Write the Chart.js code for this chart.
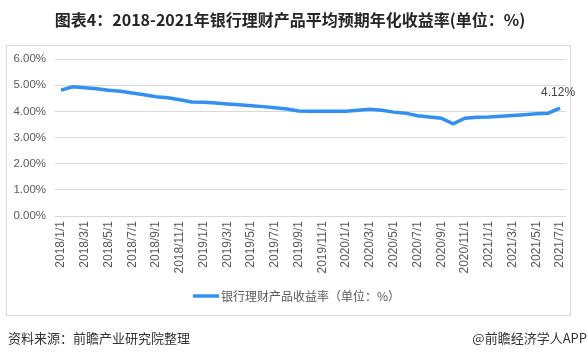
<!DOCTYPE html>
<html>
<head>
<meta charset="utf-8">
<script src="https://cdn.jsdelivr.net/npm/chart.js@4/dist/chart.umd.min.js"></script>
<style>
html,body{margin:0;padding:0;background:#fff;}
#wrap{width:588px;height:358px;position:relative;}
</style>
</head>
<body>
<div id="wrap"><canvas id="c" width="588" height="358"></canvas></div>
<script>
const titleText = '图表4：2018-2021年银行理财产品平均预期年化收益率(单位：%)';
const seriesName = '银行理财产品收益率（单位：%）';
const sourceText = '资料来源：前瞻产业研究院整理';
const brandText = '@前瞻经济学人APP';

const months = [
 '2018/1/1','2018/2/1','2018/3/1','2018/4/1','2018/5/1','2018/6/1','2018/7/1','2018/8/1','2018/9/1','2018/10/1','2018/11/1','2018/12/1',
 '2019/1/1','2019/2/1','2019/3/1','2019/4/1','2019/5/1','2019/6/1','2019/7/1','2019/8/1','2019/9/1','2019/10/1','2019/11/1','2019/12/1',
 '2020/1/1','2020/2/1','2020/3/1','2020/4/1','2020/5/1','2020/6/1','2020/7/1','2020/8/1','2020/9/1','2020/10/1','2020/11/1','2020/12/1',
 '2021/1/1','2021/2/1','2021/3/1','2021/4/1','2021/5/1','2021/6/1','2021/7/1'
];
const yields = [
 4.81,4.94,4.90,4.86,4.81,4.77,4.70,4.63,4.56,4.52,4.44,4.36,
 4.35,4.32,4.28,4.25,4.21,4.18,4.14,4.09,4.01,4.00,4.00,4.00,
 4.00,4.04,4.08,4.04,3.97,3.93,3.83,3.78,3.74,3.52,3.74,3.77,
 3.78,3.81,3.84,3.87,3.91,3.93,4.12
];
const yTicks = [0,1,2,3,4,5,6];
const lastLabel = '4.12%';

const FONT = '"Liberation Sans","Noto Sans CJK SC",sans-serif';
const CJK = '"Noto Sans CJK SC","Liberation Sans",sans-serif';

const deco = {
  id: 'deco',
  beforeDraw(chart) {
    const ctx = chart.ctx;
    ctx.save();
    ctx.fillStyle = '#fff';
    ctx.fillRect(0, 0, chart.width, chart.height);
    ctx.strokeStyle = '#d9d9d9';
    ctx.lineWidth = 1;
    ctx.strokeRect(6.5, 45.5, 564, 270);
    ctx.restore();
  },
  afterDraw(chart) {
    const ctx = chart.ctx;
    ctx.save();
    // title
    ctx.fillStyle = '#262626';
    ctx.font = 'bold 16px ' + CJK;
    ctx.textAlign = 'center';
    ctx.textBaseline = 'middle';
    ctx.fillText(titleText, 290, 20);
    // data label
    const meta = chart.getDatasetMeta(0);
    const p = meta.data[meta.data.length - 1];
    ctx.font = '12px ' + FONT;
    ctx.fillStyle = '#404040';
    ctx.fillText(lastLabel, p.x - 2, p.y - 16);
    // legend
    ctx.strokeStyle = '#3291f0';
    ctx.lineWidth = 3.5;
    ctx.beginPath();
    ctx.moveTo(193, 296);
    ctx.lineTo(219, 296);
    ctx.stroke();
    ctx.font = '12px ' + CJK;
    ctx.fillStyle = '#595959';
    ctx.textAlign = 'left';
    ctx.fillText(seriesName, 221, 296);
    // footer
    ctx.font = '13px ' + CJK;
    ctx.fillStyle = '#333333';
    ctx.textAlign = 'left';
    ctx.fillText(sourceText, 8, 338);
    ctx.textAlign = 'right';
    ctx.fillText(brandText, 587, 338);
    ctx.restore();
  }
};

new Chart(document.getElementById('c'), {
  type: 'line',
  data: {
    labels: months,
    datasets: [{
      label: seriesName,
      data: yields,
      borderColor: '#3291f0',
      borderWidth: 3.5,
      pointRadius: 0,
      tension: 0,
      fill: false
    }]
  },
  options: {
    responsive: false,
    animation: false,
    devicePixelRatio: 1,
    layout: { padding: { top: 59, bottom: 82, left: 0, right: 22 } },
    plugins: {
      legend: { display: false },
      title: { display: false },
      tooltip: { enabled: false }
    },
    scales: {
      x: {
        offset: true,
        afterFit(s) { s.height = 60; },
        grid: { display: false, drawTicks: false },
        border: { display: false },
        ticks: {
          autoSkip: false,
          minRotation: 90,
          maxRotation: 90,
          padding: 5,
          color: '#595959',
          font: { family: FONT, size: 12 },
          callback(v, i) { return i % 2 === 0 ? months[i] : ''; }
        }
      },
      y: {
        min: 0,
        max: 6,
        afterFit(s) { s.width = 55; },
        afterBuildTicks(s) { s.ticks = yTicks.map(v => ({ value: v })); },
        grid: { color: '#d9d9d9', lineWidth: 1, drawTicks: false },
        border: { display: false },
        ticks: {
          padding: 9,
          color: '#595959',
          font: { family: FONT, size: 11.5 },
          callback(v) { return Number(v).toFixed(2) + '%'; }
        }
      }
    }
  },
  plugins: [deco]
});
</script>
</body>
</html>
